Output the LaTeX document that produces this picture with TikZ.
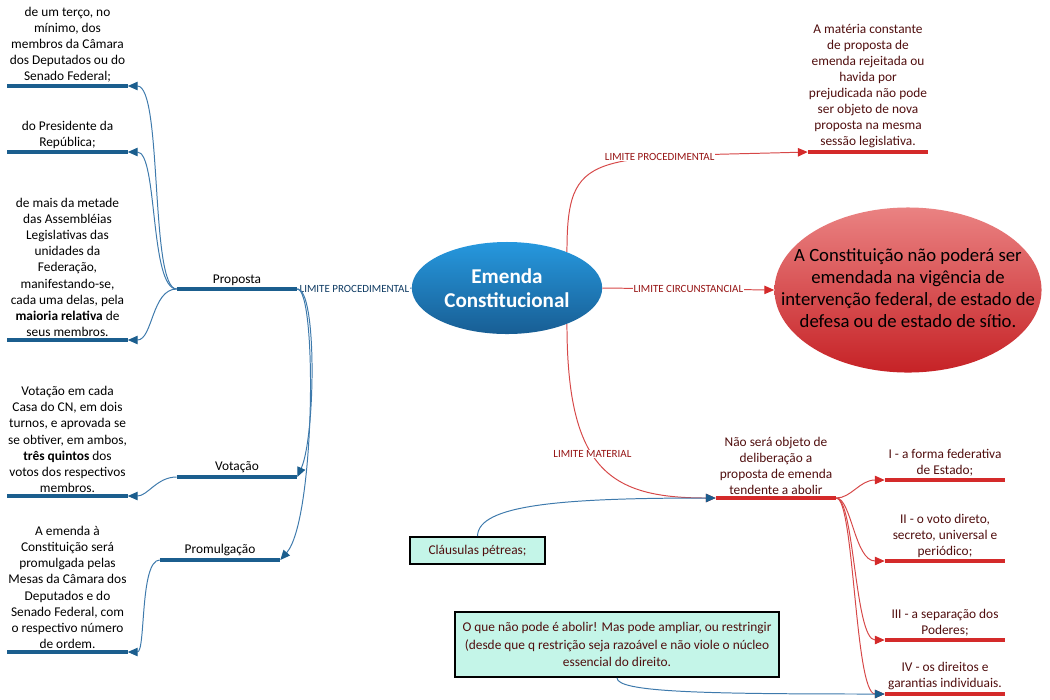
\documentclass[tikz,border=0pt]{standalone}
\usepackage{fontspec}
\setmainfont{Carlito}
\usetikzlibrary{shapes.geometric,arrows.meta,positioning}

\definecolor{azul}{RGB}{27,94,142}
\definecolor{azulclaro}{RGB}{62,122,172}
\definecolor{azulescuro}{RGB}{16,60,100}
\definecolor{vermelho}{RGB}{212,42,42}
\definecolor{vermelhoclaro}{RGB}{214,72,72}
\definecolor{vinho}{RGB}{80,14,14}
\definecolor{rotulo}{RGB}{150,20,20}
\definecolor{menta}{RGB}{196,245,232}

\tikzset{
  topico/.style={minimum width=3cm, inner xsep=0pt, inner ysep=2.5pt, align=center, anchor=south, font=\fontsize{9.5}{11.4}\selectfont},
  topicoverm/.style={topico, text=vinho},
  barraazul/.style={azul, line width=2.8pt},
  barraverm/.style={vermelho, line width=2.8pt},
  ramoazul/.style={azulclaro, line width=0.7pt, -{Triangle[length=7pt,width=6pt,color=azul]}},
  ramoverm/.style={vermelhoclaro, line width=0.7pt, -{Triangle[length=7pt,width=6pt,color=vermelho]}},
  rotuloazul/.style={fill=white, inner sep=0.5pt, text=azulescuro, font=\fontsize{7.8}{8}\selectfont},
  rotuloverm/.style={fill=white, inner sep=0.5pt, text=rotulo, font=\fontsize{7.8}{8}\selectfont},
  caixa/.style={draw=black, line width=1.2pt, fill=menta, text=vinho, align=center, font=\fontsize{9.5}{12.5}\selectfont}
}

\begin{document}
\begin{tikzpicture}[x=0.025cm, y=-0.025cm]
\useasboundingbox (0,0) rectangle (1050,699);

% Emenda
\node[ellipse, minimum width=4.75cm, minimum height=2.3cm, top color={rgb,255:red,38;green,152;blue,222}, bottom color={rgb,255:red,24;green,94;blue,148}, text=white, align=center, font=\bfseries\fontsize{15}{17.5}\selectfont] (emenda) at (507,288) {Emenda\\Constitucional};

% lado esquerdo
\node[topico] (terco) at (67.5,86) {de um terço, no\\mínimo, dos\\membros da Câmara\\dos Deputados ou do\\Senado Federal;};
\node[topico] (presidente) at (67.5,152) {do Presidente da\\República;};
\node[topico] (metade) at (67.5,340) {de mais da metade\\das Assembléias\\Legislativas das\\unidades da\\Federação,\\manifestando-se,\\cada uma delas, pela\\\textbf{maioria relativa} de\\seus membros.};
\node[topico] (proposta) at (237,289) {Proposta};
\node[topico] (votacao) at (237,477) {Votação};
\node[topico] (promulgacao) at (220,560) {Promulgação};
\node[topico] (votos) at (67.5,496) {Votação em cada\\Casa do CN, em dois\\turnos, e aprovada se\\se obtiver, em ambos,\\\textbf{três quintos} dos\\votos dos respectivos\\membros.};
\node[topico] (ordem) at (67.5,652) {A emenda à\\Constituição será\\promulgada pelas\\Mesas da Câmara dos\\Deputados e do\\Senado Federal, com\\o respectivo número\\de ordem.};

% lado direito
\node[ellipse, minimum width=6.675cm, minimum height=4.125cm, top color={rgb,255:red,234;green,130;blue,130}, bottom color={rgb,255:red,198;green,34;blue,38}, font=\fontsize{13.3}{15.6}\selectfont] (sitio) at (908,290) {\makebox[0pt]{\begin{tabular}{@{}c@{}}A Constituição não poderá ser\\emendada na vigência de\\intervenção federal, de estado de\\defesa ou de estado de sítio.\end{tabular}}};
\node[topicoverm] (materia) at (868,152) {A matéria constante\\de proposta de\\emenda rejeitada ou\\havida por\\prejudicada não pode\\ser objeto de nova\\proposta na mesma\\sessão legislativa.};
\node[topicoverm] (abolir) at (776,498) {Não será objeto de\\deliberação a\\proposta de emenda\\tendente a abolir};
\node[topicoverm] (federativa) at (945,480) {I - a forma federativa\\de Estado;};
\node[topicoverm] (voto) at (945,561) {II - o voto direto,\\secreto, universal e\\periódico;};
\node[topicoverm] (poderes) at (945,640) {III - a separação dos\\Poderes;};
\node[topicoverm] (direitos) at (945,694) {IV - os direitos e\\garantias individuais.};

% caixas
\node[caixa, minimum width=3.375cm, minimum height=0.675cm] (clausulas) at (477.5,550.5) {Cláusulas pétreas;};
\node[caixa, minimum width=8.1cm, minimum height=1.625cm] (nucleo) at (617,644.5) {O que não pode é abolir! Mas pode ampliar, ou restringir\\(desde que q restrição seja razoável e não viole o núcleo\\essencial do direito.};

% ligacoes
\draw[azulclaro, line width=0.7pt] (proposta.south east) -- node[rotuloazul] {LIMITE PROCEDIMENTAL} (emenda.west);
\draw[ramoazul] (proposta.south west) .. controls +(-27,0) and +(35,0) .. (terco.south east);
\draw[ramoazul] (proposta.south west) .. controls +(-27,0) and +(30,0) .. (presidente.south east);
\draw[ramoazul] (proposta.south west) .. controls +(-25,0) and +(25,0) .. (metade.south east);
\draw[ramoazul] (proposta.south east) .. controls +(20,0) and +(18,-40) .. (votacao.south east);
\draw[ramoazul] (proposta.south east) .. controls +(20,0) and +(35,-40) .. (promulgacao.south east);
\draw[ramoazul] (votacao.south west) .. controls +(-20,0) and +(20,0) .. (votos.south east);
\draw[ramoazul] (promulgacao.south west) .. controls +(-20,0) and +(18,0) .. (ordem.south east);

\draw[ramoverm] (emenda.31) .. controls (567,150) and (590,158) .. node[pos=0.7, rotuloverm] {LIMITE PROCEDIMENTAL} (materia.south west);
\draw[ramoverm] (emenda.east) -- node[rotuloverm] {LIMITE CIRCUNSTANCIAL} (sitio.west);
\draw[ramoverm] (emenda.-31) .. controls (567,470) and (610,498) .. node[pos=0.43, rotuloverm] {LIMITE MATERIAL} (abolir.south west);
\draw[ramoverm] (abolir.south east) .. controls +(15,0) and +(-25,0) .. (federativa.south west);
\draw[ramoverm] (abolir.south east) .. controls +(15,0) and +(-30,0) .. (voto.south west);
\draw[ramoverm] (abolir.south east) .. controls +(18,0) and +(-30,0) .. (poderes.south west);
\draw[ramoverm] (abolir.south east) .. controls +(18,0) and +(-30,0) .. (direitos.south west);

\draw[ramoazul] (clausulas.north) .. controls (478,505) and (560,498) .. (abolir.south west);
\draw[ramoazul] (nucleo.south) .. controls (617,692) and (700,694) .. (direitos.south west);

% barras
\draw[barraazul] (terco.south west) -- (terco.south east);
\draw[barraazul] (presidente.south west) -- (presidente.south east);
\draw[barraazul] (metade.south west) -- (metade.south east);
\draw[barraazul] (proposta.south west) -- (proposta.south east);
\draw[barraazul] (votacao.south west) -- (votacao.south east);
\draw[barraazul] (promulgacao.south west) -- (promulgacao.south east);
\draw[barraazul] (votos.south west) -- (votos.south east);
\draw[barraazul] (ordem.south west) -- (ordem.south east);
\draw[barraverm] (materia.south west) -- (materia.south east);
\draw[barraverm] (abolir.south west) -- (abolir.south east);
\draw[barraverm] (federativa.south west) -- (federativa.south east);
\draw[barraverm] (voto.south west) -- (voto.south east);
\draw[barraverm] (poderes.south west) -- (poderes.south east);
\draw[barraverm] (direitos.south west) -- (direitos.south east);
\end{tikzpicture}
\end{document}
